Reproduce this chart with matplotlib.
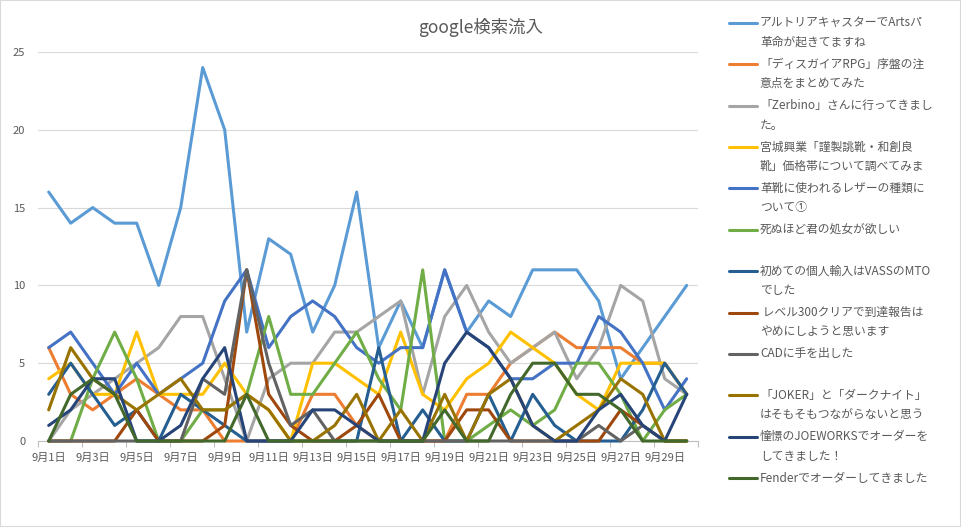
import matplotlib
matplotlib.use('Agg')
import matplotlib.pyplot as plt
from matplotlib.lines import Line2D
from matplotlib.patches import Rectangle

plt.rcParams['font.family'] = ['Noto Sans CJK JP', 'DejaVu Sans']

days = ['9月1日', '9月2日', '9月3日', '9月4日', '9月5日', '9月6日', '9月7日', '9月8日',
        '9月9日', '9月10日', '9月11日', '9月12日', '9月13日', '9月14日', '9月15日',
        '9月16日', '9月17日', '9月18日', '9月19日', '9月20日', '9月21日', '9月22日',
        '9月23日', '9月24日', '9月25日', '9月26日', '9月27日', '9月28日', '9月29日', '9月30日']

series_names = [
    'アルトリアキャスターでArtsパ\n革命が起きてますね',
    '「ディスガイアRPG」序盤の注\n意点をまとめてみた',
    '「Zerbino」さんに行ってきまし\nた。',
    '宮城興業「謹製誂靴・和創良\n靴」価格帯について調べてみま',
    '革靴に使われるレザーの種類に\nついて①',
    '死ぬほど君の処女が欲しい',
    '初めての個人輸入はVASSのMTO\nでした',
    ' レベル300クリアで到達報告は\nやめにしようと思います',
    'CADに手を出した',
    '「JOKER」と「ダークナイト」\nはそもそもつながらないと思う',
    '憧憬のJOEWORKSでオーダーを\nしてきました！',
    'Fenderでオーダーしてきました',
]

artoria  = [16, 14, 15, 14, 14, 10, 15, 24, 20, 7, 13, 12, 7, 10, 16, 6, 9, 6, 11, 7, 9, 8, 11, 11, 11, 9, 4, 6, 8, 10]
disgaea  = [6, 3, 2, 3, 4, 3, 2, 2, 0, 0, 0, 0, 3, 3, 1, 0, 0, 0, 0, 3, 3, 5, 6, 7, 6, 6, 6, 5, 5, 3]
zerbino  = [0, 2, 3, 4, 5, 6, 8, 8, 4, 0, 4, 5, 5, 7, 7, 8, 9, 3, 8, 10, 7, 5, 6, 7, 4, 6, 10, 9, 4, 3]
miyagi   = [4, 5, 3, 3, 7, 3, 3, 3, 5, 3, 2, 0, 5, 5, 4, 3, 7, 3, 2, 4, 5, 7, 6, 5, 3, 2, 5, 5, 5, 3]
leather  = [6, 7, 5, 3, 5, 3, 4, 5, 9, 11, 6, 8, 9, 8, 6, 5, 6, 6, 11, 7, 6, 4, 4, 5, 5, 8, 7, 5, 2, 4]
shinu    = [0, 0, 4, 7, 4, 0, 0, 2, 2, 3, 8, 3, 3, 5, 7, 4, 2, 11, 0, 0, 1, 2, 1, 2, 5, 5, 3, 0, 2, 3]
vass     = [3, 5, 3, 1, 2, 0, 3, 2, 1, 0, 0, 0, 0, 0, 0, 6, 0, 2, 0, 0, 3, 0, 3, 1, 0, 0, 0, 2, 5, 3]
level300 = [0, 0, 0, 0, 2, 0, 0, 0, 1, 11, 3, 1, 0, 0, 1, 3, 0, 0, 0, 2, 2, 0, 0, 0, 0, 0, 2, 1, 0, 0]
cad      = [0, 0, 0, 0, 0, 0, 0, 4, 3, 11, 5, 1, 2, 0, 0, 0, 0, 0, 0, 0, 0, 0, 0, 0, 0, 1, 0, 1, 0, 0]
joker    = [2, 6, 4, 3, 2, 3, 4, 2, 2, 3, 2, 0, 0, 1, 3, 0, 2, 0, 3, 0, 3, 4, 1, 0, 1, 2, 4, 3, 0, 0]
joeworks = [1, 2, 4, 4, 0, 0, 1, 4, 6, 0, 0, 0, 2, 2, 1, 0, 0, 0, 5, 7, 6, 4, 1, 0, 0, 2, 3, 1, 0, 3]
fender   = [0, 3, 4, 3, 0, 0, 0, 0, 0, 3, 0, 0, 0, 0, 0, 0, 0, 0, 2, 0, 0, 3, 5, 5, 3, 3, 2, 0, 0, 0]

series = [artoria, disgaea, zerbino, miyagi, leather, shinu,
          vass, level300, cad, joker, joeworks, fender]
colors = ['#5B9BD5', '#ED7D31', '#A5A5A5', '#FFC000', '#4472C4', '#70AD47',
          '#255E91', '#9E480E', '#636363', '#997300', '#264478', '#43682B']

W, H = 961, 527
fig = plt.figure(figsize=(W / 100, H / 100), dpi=100)
ax = fig.add_axes([37.7 / W, 1 - 441 / H, (697.7 - 37.7) / W, (441 - 52) / H])

x = list(range(len(days)))
for vals, col in zip(series, colors):
    ax.plot(x, vals, color=col, lw=2.2, solid_joinstyle='round',
            solid_capstyle='round', clip_on=False, zorder=3)

ax.set_xlim(-0.5, len(days) - 0.5)
ax.set_ylim(0, 25)
ax.set_yticks([0, 5, 10, 15, 20, 25])
ax.yaxis.grid(True, color='#D9D9D9', lw=0.8)
ax.set_axisbelow(True)
for s in ['top', 'right', 'left']:
    ax.spines[s].set_visible(False)
ax.spines['bottom'].set_color('#BFBFBF')
ax.spines['bottom'].set_linewidth(0.8)
ax.tick_params(axis='y', length=0, pad=9, labelsize=8, labelcolor='#595959')
ax.set_xticks(x[::2])
ax.set_xticklabels(days[::2])
ax.tick_params(axis='x', which='major', length=0, pad=8.5, labelsize=8, labelcolor='#595959')
ax.set_xticks([i - 0.5 for i in range(0, len(days) + 1, 2)], minor=True)
ax.tick_params(axis='x', which='minor', length=4, width=0.8, color='#BFBFBF')

fig.text(0.5, 1 - 27 / H, 'google検索流入', ha='center', va='center',
         fontsize=12.5, color='#595959')

# legend
for i, (name, col) in enumerate(zip(series_names, colors)):
    y0 = 22.7 + i * 41.4
    fig.add_artist(Line2D([729 / W, 757 / W], [1 - y0 / H] * 2,
                          transform=fig.transFigure, color=col, lw=2.2,
                          solid_capstyle='round'))
    for j, line in enumerate(name.split('\n')):
        fig.text(760 / W, 1 - (y0 + j * 19.5) / H, line, ha='left', va='center',
                 fontsize=8.5, color='#595959')

fig.add_artist(Rectangle((0, 0), 1, 1, transform=fig.transFigure, fill=False,
                         edgecolor='#D9D9D9', lw=1.5))

fig.savefig('out.png', dpi=100)
